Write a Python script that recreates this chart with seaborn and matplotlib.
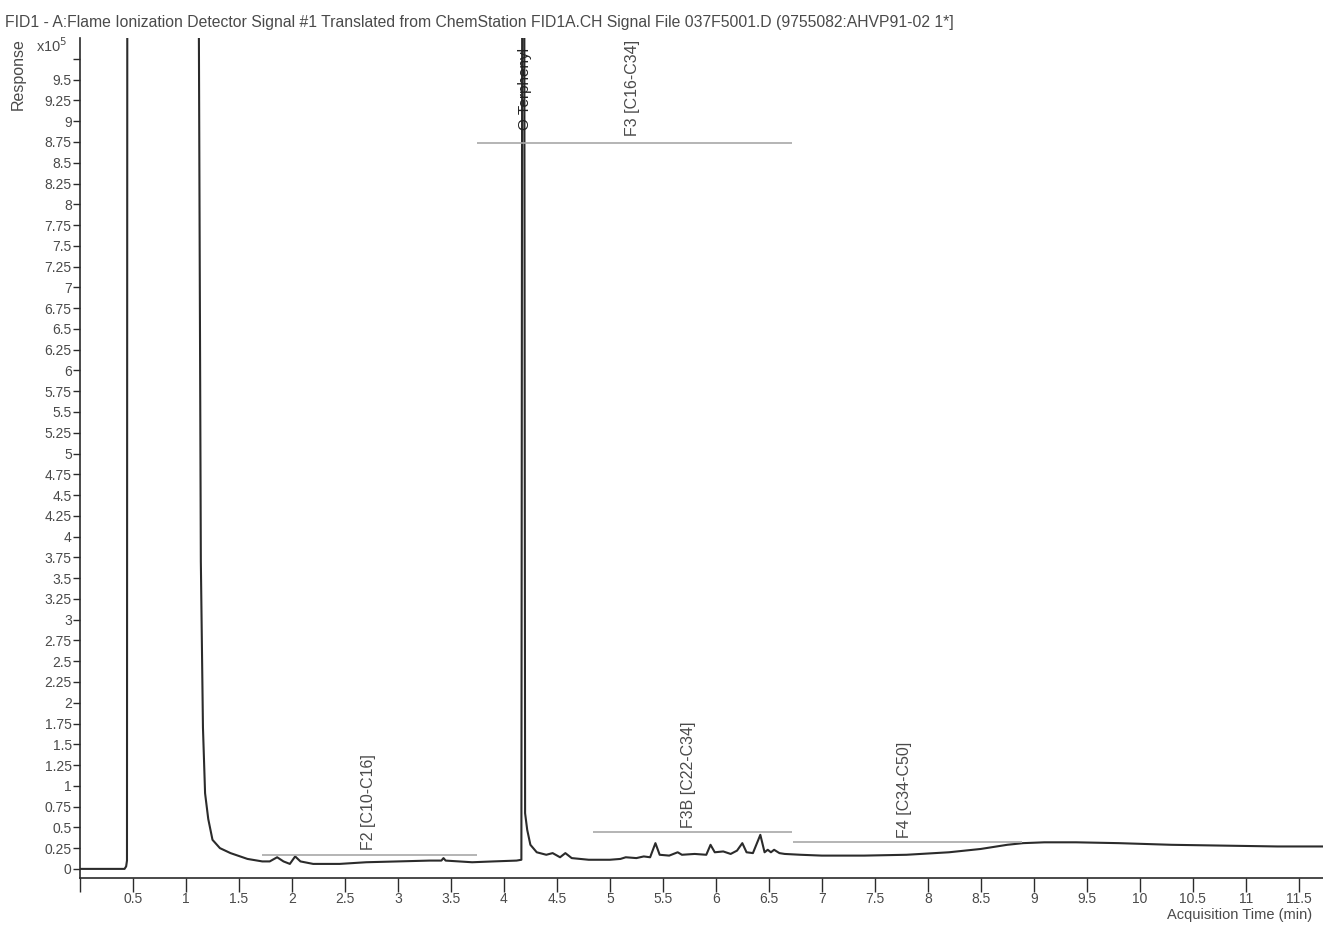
"""
FID chromatogram (ChemStation export) redrawn with seaborn / matplotlib.
Response in units of 1e5, time in minutes.
"""
import matplotlib
matplotlib.use("Agg")
import matplotlib.pyplot as plt
import numpy as np
import pandas as pd
import seaborn as sns

sns.set_theme(style="ticks")
plt.rcParams["font.family"] = ["Liberation Sans", "DejaVu Sans"]

# --- data (time in min, response x1e5) ---
time_min = [0.0, 0.40, 0.42, 0.435, 0.443, 0.447, 1.11, 1.14, 1.16, 1.18, 1.21,
            1.25, 1.32, 1.42, 1.58, 1.72, 1.79, 1.86, 1.92, 1.98, 2.03, 2.08,
            2.20, 2.45, 2.70, 3.00, 3.30, 3.41, 3.43, 3.45, 3.70, 3.90, 4.12,
            4.165, 4.175, 4.19, 4.20, 4.22, 4.25, 4.31, 4.40, 4.46, 4.53, 4.58,
            4.64, 4.80, 5.00, 5.10, 5.15, 5.25, 5.32, 5.38, 5.43, 5.47, 5.56,
            5.64, 5.68, 5.80, 5.91, 5.95, 5.99, 6.07, 6.14, 6.20, 6.25, 6.29,
            6.35, 6.42, 6.46, 6.49, 6.52, 6.55, 6.60, 6.65, 6.80, 7.00, 7.40,
            7.80, 8.20, 8.50, 8.75, 8.90, 9.10, 9.40, 9.80, 10.30, 10.80,
            11.30, 11.73]
response = [0.0, 0.0, 0.0, 0.03, 0.10, 14.0, 14.0, 3.7, 1.7, 0.91, 0.6,
            0.35, 0.25, 0.19, 0.12, 0.09, 0.09, 0.14, 0.09, 0.06, 0.15, 0.09,
            0.06, 0.06, 0.08, 0.09, 0.10, 0.10, 0.13, 0.10, 0.08, 0.09, 0.10,
            0.11, 14.0, 14.0, 0.67, 0.47, 0.29, 0.20, 0.17, 0.19, 0.14, 0.19,
            0.13, 0.11, 0.11, 0.12, 0.14, 0.13, 0.15, 0.14, 0.31, 0.17, 0.16,
            0.20, 0.17, 0.18, 0.17, 0.29, 0.20, 0.21, 0.18, 0.22, 0.31, 0.20,
            0.19, 0.41, 0.20, 0.23, 0.20, 0.23, 0.19, 0.18, 0.17, 0.16, 0.16,
            0.17, 0.20, 0.24, 0.29, 0.31, 0.32, 0.32, 0.31, 0.29, 0.28,
            0.27, 0.27]

# integration ranges drawn as horizontal bars
range_labels = ["F2 [C10-C16]", "F3 [C16-C34]", "F3B [C22-C34]", "F4 [C34-C50]"]
range_start = [1.72, 3.75, 4.84, 6.73]
range_end = [3.75, 6.72, 6.72, 8.89]
range_level = [0.167, 8.74, 0.44, 0.32]
label_x = [2.72, 5.21, 5.74, 7.78]
label_y = [0.23, 8.82, 0.49, 0.37]

peak_name = "O-Terphenyl"
peak_x = 4.19
peak_label_y = 8.9

y_ticks = np.arange(0, 9.76, 0.25)
x_ticks = np.arange(0, 11.51, 0.5)

title = ("FID1 - A:Flame Ionization Detector Signal #1 Translated from ChemStation "
         "FID1A.CH Signal File 037F5001.D (9755082:AHVP91-02 1*]")

df = pd.DataFrame({"time": time_min, "response": response})

fig = plt.figure(figsize=(13.23, 9.26), dpi=100)
ax = fig.add_axes([0.0605, 0.0518, 0.9395, 0.907])

trace = "#2b2b2b"
txt = "#4a4a4a"
bar = "#a8a8a8"

sns.lineplot(data=df, x="time", y="response", ax=ax, color=trace,
             linewidth=1.5, estimator=None, sort=False)

ax.hlines(range_level, range_start, range_end, color=bar, linewidth=1.2)
for lab, lx, ly in zip(range_labels, label_x, label_y):
    ax.text(lx, ly, lab, rotation=90, ha="center", va="bottom",
            fontsize=11.5, color=txt)
ax.text(peak_x, peak_label_y, peak_name, rotation=90, ha="center",
        va="bottom", fontsize=11, color="#222222", zorder=5)

ax.set_xlim(0, 11.73)
ax.set_ylim(-0.11, 10.0)
ax.set_xticks(x_ticks)
ax.set_xticklabels(["" if v == 0 else f"{v:g}" for v in x_ticks])
ax.set_yticks(y_ticks)
ax.set_yticklabels(["" if v > 9.6 else f"{v:g}" for v in y_ticks])
ax.tick_params(axis="x", length=10, width=1, pad=0, labelsize=10,
               colors=txt, direction="out")
ax.tick_params(axis="y", length=5, width=1, pad=1, labelsize=10,
               colors=txt, direction="out")
ax.tick_params(color=trace)
ax.set_xlabel("")
ax.set_ylabel("")
sns.despine(ax=ax)
for side in ("left", "bottom"):
    ax.spines[side].set_color(trace)
    ax.spines[side].set_linewidth(1.2)

fig.text(0.004, 0.976, title, fontsize=11.3, color=txt, ha="left", va="center")
fig.text(0.014, 0.959, "Response", rotation=90, fontsize=11.5, color=txt,
         ha="center", va="top")
fig.text(0.027, 0.951, "x10$^5$", fontsize=10.5, color=txt, ha="left", va="center")
fig.text(0.992, 0.012, "Acquisition Time (min)", fontsize=10.5, color=txt,
         ha="right", va="center")

fig.savefig("out.png", dpi=100)
